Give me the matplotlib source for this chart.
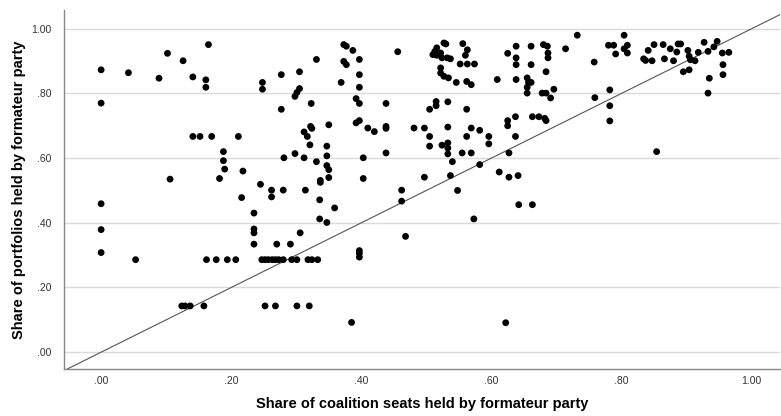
import matplotlib
matplotlib.use("Agg")
import matplotlib.pyplot as plt
import numpy as np

plt.rcParams["font.family"] = ["Liberation Sans", "DejaVu Sans"]

# ── Data ──────────────────────────────────────────────────────────────
# share of coalition seats (x) / share of portfolios (y) held by formateur

pts_left = [
    (0.0, 0.873), (0.042, 0.864), (0.102, 0.924), (0.126, 0.901), (0.089, 0.847),
    (0.141, 0.851), (0.165, 0.951), (0.161, 0.842), (0.161, 0.819), (0.0, 0.770),
    (0.141, 0.667), (0.152, 0.667), (0.170, 0.667), (0.211, 0.667), (0.188, 0.620),
    (0.188, 0.592), (0.190, 0.566), (0.106, 0.535), (0.182, 0.537), (0.216, 0.478),
    (0.0, 0.459), (0.0, 0.379), (0.0, 0.308), (0.053, 0.286), (0.162, 0.286),
    (0.177, 0.286), (0.194, 0.286), (0.207, 0.286), (0.124, 0.143), (0.129, 0.143),
    (0.137, 0.143), (0.158, 0.143),
]

pts_mid = [
    (0.373, 0.951), (0.377, 0.946), (0.387, 0.933), (0.456, 0.929), (0.331, 0.905),
    (0.397, 0.905), (0.373, 0.899), (0.377, 0.889), (0.277, 0.858), (0.305, 0.867),
    (0.397, 0.858), (0.248, 0.834), (0.248, 0.813), (0.369, 0.834), (0.397, 0.819),
    (0.305, 0.815), (0.301, 0.803), (0.298, 0.791), (0.323, 0.769), (0.392, 0.784),
    (0.397, 0.769), (0.438, 0.769), (0.277, 0.751), (0.350, 0.703), (0.392, 0.709),
    (0.397, 0.716), (0.322, 0.698), (0.324, 0.692), (0.312, 0.681), (0.317, 0.667),
    (0.410, 0.693), (0.420, 0.682), (0.438, 0.698), (0.438, 0.692), (0.321, 0.641),
    (0.347, 0.637), (0.298, 0.614), (0.281, 0.601), (0.312, 0.601), (0.347, 0.607),
    (0.403, 0.601), (0.438, 0.616), (0.331, 0.589), (0.347, 0.577), (0.350, 0.564),
    (0.218, 0.560), (0.350, 0.540), (0.403, 0.537), (0.337, 0.531), (0.337, 0.525),
    (0.245, 0.519), (0.262, 0.501), (0.262, 0.480), (0.280, 0.501), (0.314, 0.501),
    (0.462, 0.501), (0.462, 0.467), (0.336, 0.471), (0.359, 0.446), (0.235, 0.430),
    (0.336, 0.412), (0.347, 0.401), (0.235, 0.381), (0.235, 0.369), (0.306, 0.369),
    (0.468, 0.358), (0.235, 0.334), (0.270, 0.334), (0.291, 0.334), (0.397, 0.314),
    (0.397, 0.306), (0.397, 0.294),
    (0.247, 0.286), (0.252, 0.286), (0.257, 0.286), (0.263, 0.286), (0.268, 0.286),
    (0.273, 0.286), (0.280, 0.286), (0.293, 0.286), (0.301, 0.286), (0.318, 0.286),
    (0.324, 0.286), (0.333, 0.286),
    (0.252, 0.143), (0.268, 0.143), (0.301, 0.143), (0.320, 0.143), (0.385, 0.092),
]

pts_right = [
    (0.527, 0.956), (0.530, 0.953), (0.516, 0.941), (0.513, 0.930), (0.510, 0.920),
    (0.516, 0.918), (0.522, 0.925), (0.524, 0.910), (0.532, 0.910), (0.537, 0.907),
    (0.522, 0.879), (0.522, 0.863), (0.527, 0.853), (0.534, 0.848), (0.556, 0.954),
    (0.563, 0.935), (0.560, 0.918), (0.552, 0.891), (0.563, 0.891), (0.574, 0.891),
    (0.546, 0.834), (0.562, 0.837), (0.569, 0.827), (0.609, 0.843), (0.625, 0.924),
    (0.638, 0.946), (0.638, 0.910), (0.638, 0.889), (0.661, 0.946), (0.661, 0.889),
    (0.680, 0.951), (0.686, 0.946), (0.687, 0.925), (0.687, 0.910), (0.684, 0.867),
    (0.714, 0.938), (0.732, 0.980), (0.638, 0.843), (0.655, 0.848), (0.657, 0.834),
    (0.661, 0.834), (0.655, 0.819), (0.655, 0.801), (0.678, 0.801), (0.684, 0.801),
    (0.691, 0.786), (0.696, 0.813), (0.515, 0.775), (0.515, 0.762), (0.533, 0.774),
    (0.505, 0.751), (0.562, 0.751), (0.481, 0.693), (0.497, 0.693), (0.505, 0.667),
    (0.505, 0.637), (0.533, 0.696), (0.569, 0.693), (0.582, 0.686), (0.562, 0.667),
    (0.596, 0.667), (0.596, 0.644), (0.524, 0.640), (0.533, 0.647), (0.533, 0.631),
    (0.533, 0.613), (0.555, 0.616), (0.569, 0.616), (0.540, 0.589), (0.582, 0.580),
    (0.625, 0.716), (0.625, 0.700), (0.637, 0.728), (0.637, 0.667), (0.627, 0.616),
    (0.663, 0.728), (0.673, 0.728), (0.682, 0.723), (0.684, 0.716), (0.497, 0.541),
    (0.537, 0.546), (0.612, 0.557), (0.627, 0.541), (0.641, 0.546),
    (0.548, 0.500), (0.573, 0.412), (0.642, 0.456), (0.663, 0.456), (0.622, 0.091),
    (0.804, 0.980), (0.780, 0.949), (0.788, 0.949), (0.791, 0.922), (0.804, 0.938),
    (0.809, 0.949), (0.809, 0.925), (0.758, 0.897), (0.834, 0.907), (0.837, 0.902),
    (0.847, 0.901), (0.841, 0.933), (0.850, 0.951), (0.864, 0.951), (0.866, 0.907),
    (0.875, 0.938), (0.880, 0.901), (0.885, 0.928), (0.887, 0.953), (0.891, 0.953),
    (0.902, 0.933), (0.904, 0.915), (0.906, 0.904), (0.913, 0.901), (0.918, 0.927),
    (0.895, 0.867), (0.904, 0.873), (0.927, 0.958), (0.933, 0.930), (0.942, 0.944),
    (0.947, 0.961), (0.955, 0.925), (0.965, 0.927), (0.956, 0.889), (0.956, 0.858),
    (0.935, 0.847), (0.933, 0.801), (0.759, 0.787), (0.782, 0.811), (0.782, 0.762),
    (0.782, 0.715), (0.854, 0.620),
]

ticks = [0.0, 0.2, 0.4, 0.6, 0.8, 1.0]
tick_labels = [".00", ".20", ".40", ".60", ".80", "1.00"]

seats = np.array([p[0] for p in pts_left + pts_mid + pts_right])
portfolios = np.array([p[1] for p in pts_left + pts_mid + pts_right])

# ── Plot ──────────────────────────────────────────────────────────────

fig = plt.figure(figsize=(7.81, 4.16), dpi=100)
ax = fig.add_axes([0.082, 0.113, 0.917, 0.863])

ax.set_xlim(-0.057, 1.044)
ax.set_ylim(-0.052, 1.058)

for t in ticks:
    ax.axhline(t, color="#d9d9d9", linewidth=1.0, zorder=0)

ax.axline((0, 0), slope=1, color="#555555", linewidth=0.8, zorder=1)
ax.scatter(seats, portfolios, s=24, color="black", edgecolors="none", zorder=2)

ax.set_xticks(ticks)
ax.set_xticklabels(tick_labels)
ax.set_yticks(ticks)
ax.set_yticklabels(tick_labels)
ax.tick_params(length=0, labelsize=7.5, labelcolor="#333333")
ax.tick_params(axis="x", pad=5)
ax.tick_params(axis="y", pad=9)

for side in ["top", "right"]:
    ax.spines[side].set_visible(False)
for side in ["left", "bottom"]:
    ax.spines[side].set_color("#888888")
    ax.spines[side].set_linewidth(1.0)

ax.set_xlabel("Share of coalition seats held by formateur party",
              fontsize=10.5, fontweight="bold", labelpad=8)
ax.set_ylabel("Share of portfolios held by formateur party",
              fontsize=10.5, fontweight="bold", labelpad=4)

fig.savefig("out.png", dpi=100)
plt.close()
